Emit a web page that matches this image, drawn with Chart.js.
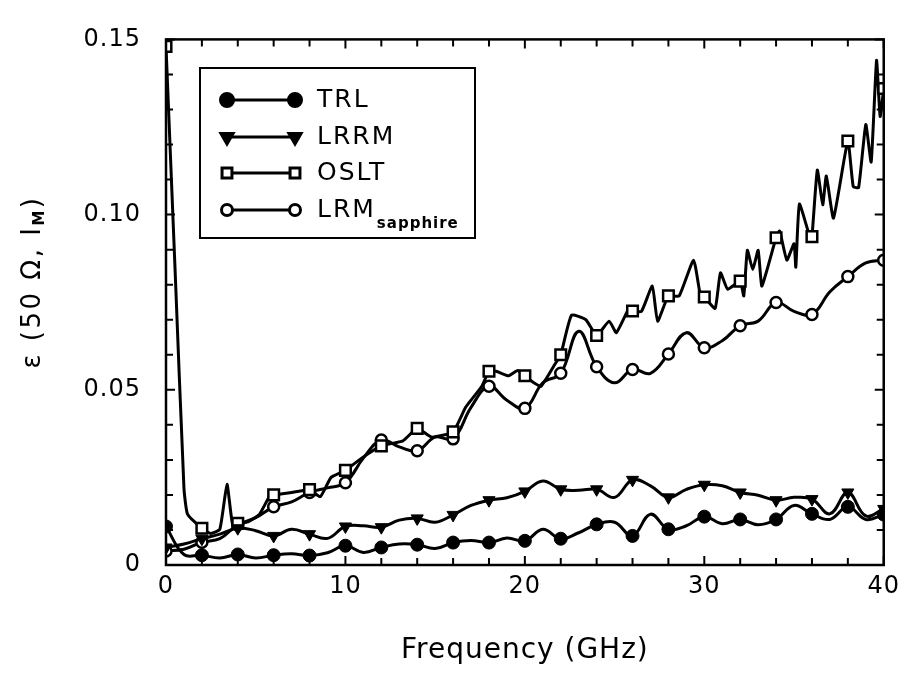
<!DOCTYPE html>
<html>
<head>
<meta charset="utf-8">
<script src="https://cdn.jsdelivr.net/npm/chart.js@4.4.0/dist/chart.umd.min.js"></script>
<style>
  html, body { margin: 0; padding: 0; background: #fff; }
  #wrap { width: 906px; height: 683px; }
</style>
</head>
<body>
<div id="wrap"><canvas id="myChart" width="906" height="683"></canvas></div>
<script>
// frequency grid (GHz) used for TRL, LRRM and LRM(sapphire)
const freqs = [0, 1, 2, 3, 4, 5, 6, 7, 8, 9, 10, 11, 12, 13, 14, 15, 16, 17, 18, 19, 20,
    21, 22, 23, 24, 25, 26, 27, 28, 29, 30, 31, 32, 33, 34, 35, 36, 37, 38, 39, 40];

const trl = [0.011, 0.003, 0.0028, 0.002, 0.003, 0.002, 0.0028, 0.0032, 0.0027, 0.0035, 0.0055,
    0.0036, 0.005, 0.006, 0.0058, 0.0047, 0.0064, 0.007, 0.0064, 0.0077, 0.0069,
    0.0102, 0.0075, 0.0092, 0.0116, 0.0122, 0.0083, 0.0145, 0.0102, 0.0112, 0.0138,
    0.0118, 0.013, 0.0115, 0.013, 0.017, 0.0146, 0.013, 0.0166, 0.013, 0.0144];

const lrrm = [0.005, 0.006, 0.0075, 0.0088, 0.0105, 0.0098, 0.0083, 0.0102, 0.0088, 0.0076, 0.011,
    0.0112, 0.0108, 0.0128, 0.0133, 0.0122, 0.0143, 0.017, 0.0185, 0.0192, 0.021,
    0.024, 0.0216, 0.0213, 0.0216, 0.0193, 0.0243, 0.0226, 0.0193, 0.0216, 0.0229,
    0.0226, 0.0207, 0.0199, 0.0185, 0.0193, 0.0188, 0.0146, 0.0207, 0.014, 0.016];

const lrmSapphire = [0.004, 0.0045, 0.0065, 0.0075, 0.0115, 0.0135, 0.0166, 0.018, 0.0207, 0.022, 0.0235,
    0.0305, 0.0357, 0.0337, 0.0326, 0.0365, 0.036, 0.045, 0.051, 0.047, 0.0447,
    0.052, 0.0547, 0.0667, 0.0566, 0.052, 0.0558, 0.0547, 0.0602, 0.0663, 0.062,
    0.064, 0.0683, 0.0696, 0.0749, 0.0724, 0.0715, 0.078, 0.0823, 0.0862, 0.087];

// OSLT is much noisier, so it is read at its own (uneven) frequencies
const osltFreqs = [0, 0.5, 1.0, 1.2, 2, 2.5, 3.0, 3.4, 3.7, 4, 4.6, 5.2, 5.8, 6, 7, 8, 8.6, 9.2, 10,
    10.9, 12, 13.2, 14, 14.8, 16, 16.7, 17.6, 18, 18.4, 19.1, 19.6, 20, 20.5, 20.9, 21.7, 22,
    22.6, 23.4, 24, 24.7, 25.1, 25.8, 26, 26.5, 27.1, 27.4, 28, 28.6, 29.4, 29.8, 30, 30.6,
    30.9, 31.3, 32, 32.2, 32.4, 32.7, 33, 33.2, 33.5, 34, 34.2, 34.6, 35, 35.1, 35.3, 35.9,
    36, 36.3, 36.6, 36.8, 37.2, 38, 38.3, 38.6, 39, 39.3, 39.6, 39.8, 40];
const oslt = [0.148, 0.085, 0.022, 0.0145, 0.0105, 0.009, 0.0102, 0.023, 0.0119, 0.0119, 0.0124,
    0.0144, 0.0199, 0.02, 0.0207, 0.0215, 0.0195, 0.025, 0.027,
    0.0305, 0.034, 0.0354, 0.039, 0.0365, 0.038, 0.045, 0.051, 0.0553, 0.0553, 0.054, 0.0555,
    0.054, 0.052, 0.051, 0.0575, 0.06,
    0.0713, 0.07, 0.0655, 0.0696, 0.0663, 0.0732, 0.0725, 0.0724, 0.0796, 0.0696, 0.0768,
    0.0768, 0.087, 0.0765, 0.0765, 0.0732,
    0.0834, 0.0787, 0.081, 0.0768, 0.0898, 0.0843, 0.0898, 0.0796, 0.0843, 0.0934, 0.0953,
    0.087, 0.0917, 0.085, 0.103, 0.0934,
    0.0937, 0.1127, 0.1028, 0.111, 0.099, 0.121, 0.108, 0.1077, 0.1257, 0.115, 0.144, 0.128, 0.136];

const seriesNames = ['TRL', 'LRRM', 'OSLT', 'LRM'];
const yTickLabels = { 0: '0', 0.05: '0.05', 0.1: '0.10', 0.15: '0.15' };

const FONT = 'DejaVu Sans';

function pairs(xs, ys) {
    return xs.map((x, i) => ({ x: x, y: ys[i] }));
}

// markers only every 2 GHz, like the original plot
function markerEvery2(r) {
    return ctx => {
        const p = ctx.raw;
        if (!p) return 0;
        const x = Math.round(p.x * 1000) / 1000;
        return (Number.isInteger(x) && x % 2 === 0) ? r : 0;
    };
}

const frameAndTicks = {
    id: 'frameAndTicks',
    beforeDraw(chart) {
        chart.ctx.letterSpacing = '1px';
    },
    afterDraw(chart) {
        const ctx = chart.ctx;
        const a = chart.chartArea;
        const xs = chart.scales.x, ys = chart.scales.y;
        ctx.save();
        ctx.letterSpacing = '0px';
        ctx.strokeStyle = '#000';
        ctx.lineWidth = 2.5;
        ctx.strokeRect(a.left, a.top, a.right - a.left, a.bottom - a.top);

        // inward minor/major ticks on all four sides
        ctx.lineWidth = 2;
        ctx.beginPath();
        for (let f = 0; f <= 40; f += 2) {
            const px = xs.getPixelForValue(f);
            const len = f % 10 === 0 ? 9 : 7;
            ctx.moveTo(px, a.bottom); ctx.lineTo(px, a.bottom - len);
            ctx.moveTo(px, a.top); ctx.lineTo(px, a.top + len);
        }
        for (let i = 0; i <= 15; i++) {
            const py = ys.getPixelForValue(i / 100);
            const len = i % 5 === 0 ? 9 : 7;
            ctx.moveTo(a.left, py); ctx.lineTo(a.left + len, py);
            ctx.moveTo(a.right, py); ctx.lineTo(a.right - len, py);
        }
        ctx.stroke();

        // y axis title with subscript
        ctx.fillStyle = '#000';
        ctx.translate(33, 282);
        ctx.rotate(-Math.PI / 2);
        ctx.letterSpacing = '2.5px';
        const main = 'ε (50 Ω, I';
        ctx.font = '26px "' + FONT + '"';
        const w1 = ctx.measureText(main).width;
        ctx.font = 'bold 15px "' + FONT + '"';
        const w2 = ctx.measureText('M').width;
        ctx.font = '26px "' + FONT + '"';
        const w3 = ctx.measureText(')').width;
        let x0 = -(w1 + w2 + w3) / 2;
        ctx.textBaseline = 'middle';
        ctx.textAlign = 'left';
        ctx.fillText(main, x0, 0);
        ctx.font = 'bold 15px "' + FONT + '"';
        ctx.fillText('M', x0 + w1, 7);
        ctx.font = '26px "' + FONT + '"';
        ctx.fillText(')', x0 + w1 + w2, 0);
        ctx.restore();

        // legend box
        ctx.save();
        ctx.letterSpacing = '2px';
        ctx.strokeStyle = '#000';
        ctx.fillStyle = '#000';
        ctx.lineWidth = 2;
        ctx.strokeRect(200, 68, 275, 170);
        const rows = [100, 137, 173, 210];
        chart.data.datasets.forEach((ds, i) => {
            const y = rows[i];
            ctx.lineWidth = 3;
            ctx.beginPath();
            ctx.moveTo(227, y); ctx.lineTo(295, y);
            ctx.stroke();
            [227, 295].forEach(px => {
                ctx.save();
                ctx.fillStyle = ds.pointBackgroundColor;
                ctx.strokeStyle = '#000';
                Chart.helpers.drawPoint(ctx, {
                    pointStyle: ds.pointStyle,
                    radius: ds.legendRadius,
                    rotation: ds.pointRotation || 0,
                    borderWidth: ds.pointBorderWidth
                }, px, y);
                ctx.restore();
            });
            ctx.textBaseline = 'middle';
            ctx.textAlign = 'left';
            ctx.font = '25px "' + FONT + '"';
            ctx.fillText(ds.label, 317, y);
            if (ds.label === 'LRM') {
                const w = ctx.measureText('LRM').width;
                ctx.font = 'bold 15px "' + FONT + '"';
                ctx.letterSpacing = '1px';
                ctx.fillText('sapphire', 317 + w + 1, y + 14);
                ctx.letterSpacing = '2px';
            }
        });
        ctx.restore();
    }
};

const data = {
    datasets: [
        {
            label: seriesNames[0],
            data: pairs(freqs, trl),
            borderColor: '#000',
            borderWidth: 3,
            tension: 0.4,
            pointStyle: 'circle',
            pointRadius: markerEvery2(6.5),
            legendRadius: 6.5,
            pointBackgroundColor: '#000',
            pointBorderColor: '#000',
            pointBorderWidth: 1
        },
        {
            label: seriesNames[1],
            data: pairs(freqs, lrrm),
            borderColor: '#000',
            borderWidth: 3,
            tension: 0.4,
            pointStyle: 'triangle',
            pointRotation: 180,
            pointRadius: markerEvery2(7),
            legendRadius: 7,
            pointBackgroundColor: '#000',
            pointBorderColor: '#000',
            pointBorderWidth: 1
        },
        {
            label: seriesNames[2],
            data: pairs(osltFreqs, oslt),
            borderColor: '#000',
            borderWidth: 3,
            tension: 0.15,
            pointStyle: 'rect',
            pointRadius: markerEvery2(7.5),
            legendRadius: 7,
            pointBackgroundColor: '#fff',
            pointBorderColor: '#000',
            pointBorderWidth: 2.5
        },
        {
            label: seriesNames[3],
            data: pairs(freqs, lrmSapphire),
            borderColor: '#000',
            borderWidth: 3,
            tension: 0.4,
            pointStyle: 'circle',
            pointRadius: markerEvery2(5.5),
            legendRadius: 5.5,
            pointBackgroundColor: '#fff',
            pointBorderColor: '#000',
            pointBorderWidth: 2.5
        }
    ]
};

const config = {
    type: 'line',
    data,
    options: {
        responsive: false,
        animation: false,
        devicePixelRatio: 1,
        layout: { padding: { left: 0, top: 22, right: 19, bottom: 0 } },
        plugins: {
            legend: { display: false },
            tooltip: { enabled: false }
        },
        scales: {
            x: {
                type: 'linear',
                min: 0,
                max: 40,
                grid: { display: false, drawTicks: false },
                border: { display: false },
                ticks: {
                    stepSize: 10,
                    padding: 7,
                    color: '#000',
                    font: { family: FONT, size: 24 }
                },
                title: {
                    display: true,
                    text: 'Frequency (GHz)',
                    color: '#000',
                    font: { family: FONT, size: 28 },
                    padding: { top: 0, bottom: 15 }
                },
                afterFit: scale => { scale.height = 118; }
            },
            y: {
                min: 0,
                max: 0.15,
                grid: { display: false, drawTicks: false },
                border: { display: false },
                ticks: {
                    stepSize: 0.05,
                    padding: 25,
                    color: '#000',
                    font: { family: FONT, size: 24 },
                    callback: v => yTickLabels[Math.round(v * 100) / 100]
                },
                afterFit: scale => { scale.width = 166; }
            }
        }
    },
    plugins: [frameAndTicks]
};

const myChart = new Chart(document.getElementById('myChart'), config);
</script>
</body>
</html>
